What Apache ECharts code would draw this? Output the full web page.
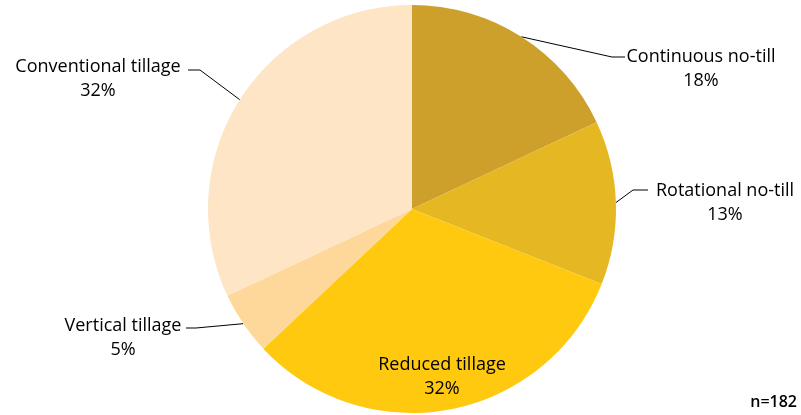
<!DOCTYPE html>
<html><head><meta charset="utf-8">
<script src="https://cdn.jsdelivr.net/npm/echarts@6/dist/echarts.min.js"></script>
<style>html,body{margin:0;padding:0;background:#fff}#c{width:801px;height:415px}</style>
</head><body><div id="c"></div>
<script>
const categories = ['Continuous no-till', 'Rotational no-till', 'Reduced tillage', 'Vertical tillage', 'Conventional tillage'];
const shares = [18, 13, 32, 5, 32];
const sliceColors = ['#CDA02B', '#E5B723', '#FEC90F', '#FDD89A', '#FDE5C5'];
const sampleNote = 'n=182';

// label block centers and leader-line elbow points (annotation placement)
const labelPos = [[701, 69], [725, 203], [442, 377], [123, 338], [98, 79]];
const elbows = [[[612, 57], [625, 57]], [[633, 190], [648, 190]], null, [[196, 328], [186, 328]], [[200, 70], [188, 70]]];

const chart = echarts.init(document.getElementById('c'), null, {renderer: 'canvas'});
chart.setOption({
  animation: false,
  graphic: [{
    type: 'text', right: 4, bottom: 5,
    style: {text: sampleNote, font: '600 16px "Open Sans"', fill: '#000'}
  }],
  series: [{
    type: 'pie',
    center: [412, 209],
    radius: 204,
    startAngle: 90,
    clockwise: true,
    avoidLabelOverlap: false,
    itemStyle: {borderWidth: 0},
    label: {
      show: true, position: 'outside',
      formatter: p => p.name + '\n' + p.value + '%',
      fontFamily: 'Open Sans', fontSize: 18, lineHeight: 24, color: '#000', align: 'center'
    },
    labelLine: {show: true, length: 20, length2: 15, lineStyle: {color: '#000', width: 1}},
    labelLayout: function (params) {
      const i = params.dataIndex;
      const out = {x: labelPos[i][0], y: labelPos[i][1], align: 'center', verticalAlign: 'middle'};
      if (elbows[i] && params.labelLinePoints) {
        const s = params.labelLinePoints[0];
        out.labelLinePoints = [s, elbows[i][0], elbows[i][1]];
      }
      return out;
    },
    data: categories.map((n, i) => ({
      name: n, value: shares[i],
      itemStyle: {color: sliceColors[i]},
      labelLine: {show: i !== 2}
    }))
  }]
});
</script></body></html>
